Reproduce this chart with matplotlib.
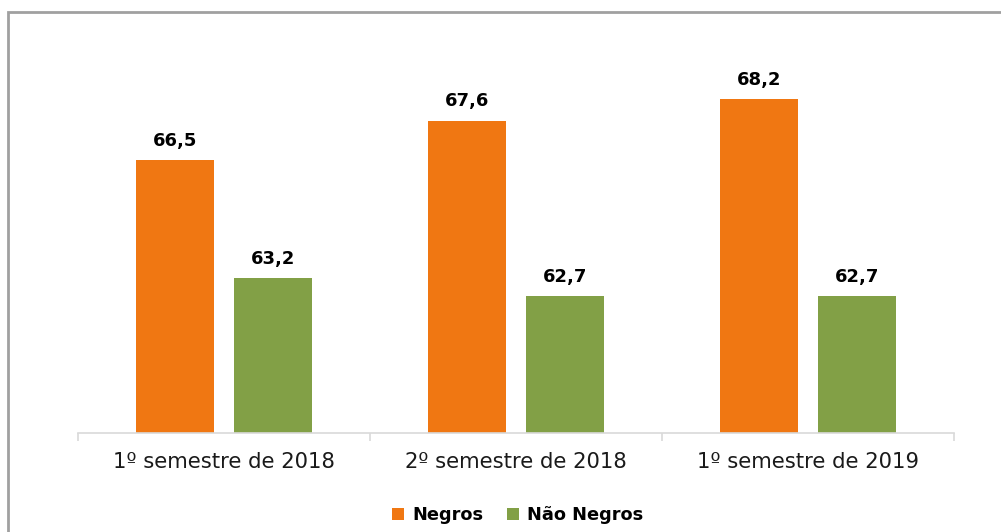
import matplotlib
matplotlib.use("Agg")
import matplotlib.pyplot as plt
import numpy as np
from matplotlib.patches import Rectangle

categories = ["1º semestre de 2018", "2º semestre de 2018", "1º semestre de 2019"]
series_names = ["Negros", "Não Negros"]
negros = [66.5, 67.6, 68.2]
nao_negros = [63.2, 62.7, 62.7]
labels_negros = ["66,5", "67,6", "68,2"]
labels_nao = ["63,2", "62,7", "62,7"]

c_orange = "#F07712"
c_green = "#82A046"

plt.rcParams['font.family'] = ['DejaVu Sans']

fig = plt.figure(figsize=(10.01, 5.32), dpi=100)
W, H = 1001, 532
ax_l, ax_r, ax_b, ax_t = 78, 954, 433, 35
ax = fig.add_axes([ax_l / W, (H - ax_b) / H, (ax_r - ax_l) / W, (ax_b - ax_t) / H])

x = np.arange(len(categories))
bw = 0.267
off = 0.168
b1 = ax.bar(x - off, negros, bw, color=c_orange, label=series_names[0], zorder=2)
b2 = ax.bar(x + off, nao_negros, bw, color=c_green, label=series_names[1], zorder=2)

ymin = 58.87
ax.set_ylim(ymin, 70)
ax.set_xlim(-0.5, 2.5)

for bars, labs in ((b1, labels_negros), (b2, labels_nao)):
    for rect, lab in zip(bars, labs):
        ax.annotate(lab, (rect.get_x() + rect.get_width() / 2, rect.get_height()),
                    xytext=(0, 7.5), textcoords="offset points", ha="center", va="bottom",
                    fontsize=13, fontweight="bold", color="#000000")

for s in ("top", "left", "right"):
    ax.spines[s].set_visible(False)
ax.spines["bottom"].set_color("#d9d9d9")
ax.spines["bottom"].set_linewidth(1.2)
ax.set_yticks([])
ax.set_xticks([-0.5, 0.5, 1.5, 2.5])
ax.set_xticklabels([])
ax.tick_params(axis="x", length=6, color="#d9d9d9", width=1.2)
ax.set_xticks(x, minor=True)
ax.set_xticklabels(categories, minor=True, fontsize=15.2, color="#1a1a1a")
ax.tick_params(axis="x", which="minor", length=0, pad=14)

leg = fig.legend(handles=[b1, b2], labels=series_names, loc="center",
                 bbox_to_anchor=(518 / W, (H - 515) / H), ncol=2, frameon=False,
                 prop={"weight": "bold", "size": 12.8}, handlelength=0.65, handleheight=0.65,
                 columnspacing=1.3, handletextpad=0.5)

# outer border
fig.add_artist(Rectangle((7.5 / W, -0.05), 1.1, (H - 11.5) / H + 0.05,
                         transform=fig.transFigure, fill=False,
                         edgecolor="#a0a0a0", linewidth=2, clip_on=False))

fig.savefig("out.png", dpi=100)
